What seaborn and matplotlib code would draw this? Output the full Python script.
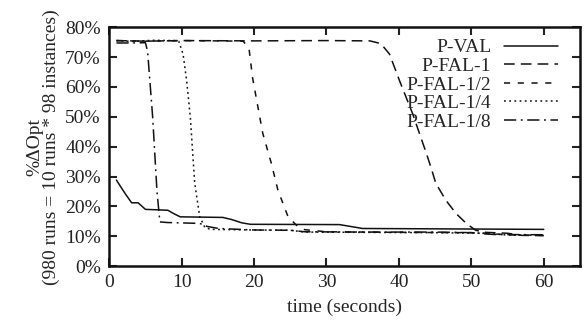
import pandas as pd
import matplotlib
matplotlib.use("Agg")
import matplotlib.pyplot as plt
import seaborn as sns
from matplotlib.ticker import FuncFormatter

# values (time in seconds, %dOpt)
pval_t = [1, 2.2, 3.1, 4, 5, 8.1, 8.9, 9.8, 15.7, 16.9, 18.3, 19.5, 31.8, 35, 60]
pval_v = [28.8, 24.3, 21.2, 21.2, 19.0, 18.7, 17.6, 16.5, 16.3, 15.6, 14.5, 14.0, 13.9, 12.6, 12.3]

fal1_t = [1, 5, 10, 20, 30, 36, 37.5, 38.7, 40.1, 41.9, 43.8, 44.5, 45.1, 46.5, 47.9, 49.3, 50.6, 52, 55, 57, 60]
fal1_v = [75.5, 75.3, 75.5, 75.4, 75.5, 75.4, 74.5, 71, 62, 51, 37.7, 32.5, 27.7, 22, 17.6, 14.3, 12, 11.3, 11, 10.3, 10.2]

fal2_t = [1, 5, 10, 15, 18.5, 19.3, 19.8, 21.2, 22.4, 23.3, 24.7, 26.1, 27, 30, 40, 50, 55, 60]
fal2_v = [75.5, 75.3, 75.5, 75.4, 75.3, 73, 63, 44.5, 34.3, 25.4, 16.5, 13.1, 12.2, 11.5, 11.3, 11.2, 10.5, 10.3]

fal4_t = [1, 3, 6, 9, 9.6, 10.2, 10.7, 11.2, 11.8, 12.5, 13.2, 14, 20, 25, 27, 35, 45, 52, 55, 60]
fal4_v = [75.5, 75.2, 75.6, 75.5, 75.3, 71, 62, 50, 28, 16.5, 13.0, 12.3, 12.1, 12.0, 11.4, 11.3, 11.2, 11.0, 10.4, 10.3]

fal8_t = [1, 3, 5, 5.3, 6, 6.6, 7.0, 8, 12.5, 13.5, 15.1, 20, 25, 27, 35, 45, 50, 53, 60]
fal8_v = [74.7, 74.7, 74.8, 72, 50, 25, 14.8, 14.6, 14.3, 13.3, 12.6, 12.1, 12.0, 11.5, 11.4, 11.4, 11.2, 10.6, 10.5]

series = {
    "P-VAL": (pval_t, pval_v),
    "P-FAL-1": (fal1_t, fal1_v),
    "P-FAL-1/2": (fal2_t, fal2_v),
    "P-FAL-1/4": (fal4_t, fal4_v),
    "P-FAL-1/8": (fal8_t, fal8_v),
}
dash_styles = {
    "P-VAL": "",
    "P-FAL-1": (7, 4),
    "P-FAL-1/2": (4, 5),
    "P-FAL-1/4": (1.2, 2.2),
    "P-FAL-1/8": (8, 3, 1.2, 3),
}

rows = []
for name, (ts, vs) in series.items():
    for t, v in zip(ts, vs):
        rows.append({"time": t, "value": v, "method": name})
df = pd.DataFrame(rows)

sns.set_style("ticks")
plt.rcParams["font.family"] = ["Liberation Serif", "DejaVu Serif"]

fig, ax = plt.subplots(figsize=(5.87, 3.31), dpi=100)
fig.subplots_adjust(left=0.186, right=0.988, top=0.918, bottom=0.196)

sns.lineplot(data=df, x="time", y="value", hue="method", style="method",
             palette=["#111111"] * 5, dashes=dash_styles, linewidth=1.1,
             sort=False, estimator=None, ax=ax)

ax.set_xlim(0, 65)
ax.set_ylim(0, 80)
ax.set_xticks(range(0, 61, 10))
ax.set_yticks(range(0, 81, 10))
ax.yaxis.set_major_formatter(FuncFormatter(lambda v, _: f"{int(v)}%"))
ax.tick_params(direction="in", length=6, width=1.5, top=True, right=True,
               labelsize=14, colors="#222222", pad=6)
for s in ax.spines.values():
    s.set_linewidth(1.8)
    s.set_color("#111111")

ax.set_xlabel("time (seconds)", fontsize=14, labelpad=5)
ax.set_ylabel("%ΔOpt\n(980 runs = 10 runs * 98 instances)", fontsize=14,
              labelpad=4, linespacing=0.95)

leg = ax.legend(loc="upper right", bbox_to_anchor=(0.979, 1.0), frameon=False,
                markerfirst=False, fontsize=14, handlelength=2.8,
                labelspacing=0.05, borderaxespad=0.2, handletextpad=0.65)
leg._legend_box.align = "right"

fig.savefig("out.png", dpi=100)
